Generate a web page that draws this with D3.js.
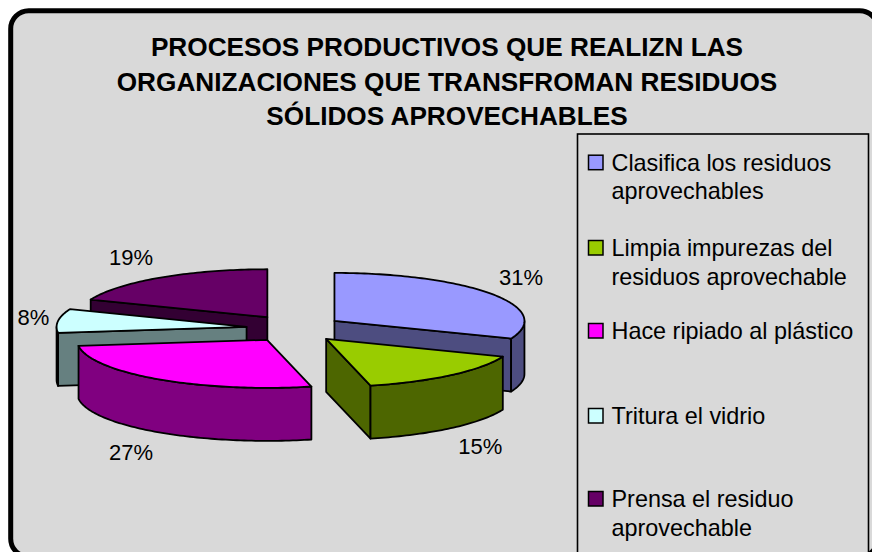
<!DOCTYPE html>
<html>
<head>
<meta charset="utf-8">
<script src="https://cdn.jsdelivr.net/npm/d3@7"></script>
<style>
html,body{margin:0;padding:0;background:#fff;overflow:hidden}
svg{display:block}
text{font-family:"Liberation Sans",Arial,sans-serif;fill:#000}
</style>
</head>
<body>
<svg id="chart" width="872" height="552"></svg>
<script>
const titleLines = [
  "PROCESOS PRODUCTIVOS QUE REALIZN LAS",
  "ORGANIZACIONES QUE TRANSFROMAN RESIDUOS",
  "SÓLIDOS APROVECHABLES"
];
const categories = [
  ["Clasifica los residuos", "aprovechables"],
  ["Limpia impurezas del", "residuos aprovechable"],
  ["Hace ripiado al plástico"],
  ["Tritura el vidrio"],
  ["Prensa el residuo", "aprovechable"]
];
const values = [31, 15.25, 26.75, 8, 19];
const colors = ["#9999FF", "#99CC00", "#FF00FF", "#CCFFFF", "#660066"];
const labelNudges = [[29.5, -9], [29.5, 79], [-28, 81], [-24.7, 4], [-29.6, -12.6]];
const legendBaselines = [170.7, 256, 339, 424, 507];

const svg = d3.select("#chart");
const bg = "#D9D9D9";

// Frame (runs past the right and bottom edges of the picture)
svg.append("rect")
  .attr("x", 10.7).attr("y", 10.7).attr("width", 867).attr("height", 546)
  .attr("rx", 18).attr("ry", 18)
  .attr("fill", bg).attr("stroke", "#000").attr("stroke-width", 5);

// Title
svg.append("g").selectAll("text").data(titleLines).join("text")
  .attr("x", 447).attr("y", (d, i) => [56, 90.5, 125][i])
  .attr("text-anchor", "middle")
  .attr("font-weight", "bold").attr("font-size", 26.2)
  .text(d => d);

// Pie
const cx = 294.5, cy = 328.6, rx = 190, ry = 48, depth = 53, ex = 48.3, ey = 13.7;
const pie = d3.pie().sort(null).startAngle(0).endAngle(2 * Math.PI)(values);
const line = d3.line();
const proj = (a, r) => [Math.sin(a) * r * rx, -Math.cos(a) * r * ry];

const slices = pie.map((p, i) => {
  const mid = (p.startAngle + p.endAngle) / 2;
  return {
    i, mid, start: p.startAngle, end: p.endAngle,
    ax: cx + ex * Math.sin(mid),
    ay: cy - ey * Math.cos(mid),
    color: colors[i],
    wall: (c => d3.rgb(c.r / 2, c.g / 2, c.b / 2).formatHex())(d3.rgb(colors[i]))
  };
}).sort((a, b) => a.ay - b.ay);

const rim = (s, a0, a1, dy) => {
  const n = Math.max(2, Math.ceil((a1 - a0) / 0.02));
  return d3.range(n + 1).map(k => {
    const a = a0 + (a1 - a0) * k / n;
    const [x, y] = proj(a, 1);
    return [s.ax + x, s.ay + y + dy];
  });
};
const radialWall = (s, a) => {
  const [x, y] = proj(a, 1);
  return [[s.ax, s.ay], [s.ax + x, s.ay + y], [s.ax + x, s.ay + y + depth], [s.ax, s.ay + depth]];
};

const sliceG = svg.append("g").attr("stroke", "#000").attr("stroke-width", 1.8).attr("stroke-linejoin", "round");
slices.forEach(s => {
  const g = sliceG.append("g");
  if (Math.sin(s.start) < -1e-6)
    g.append("path").attr("d", line(radialWall(s, s.start)) + "Z").attr("fill", s.wall);
  if (Math.sin(s.end) > 1e-6)
    g.append("path").attr("d", line(radialWall(s, s.end)) + "Z").attr("fill", s.wall);
  const a0 = Math.max(s.start, Math.PI / 2), a1 = Math.min(s.end, 3 * Math.PI / 2);
  if (a1 > a0) {
    const pts = rim(s, a0, a1, 0).concat(rim(s, a0, a1, depth).reverse());
    g.append("path").attr("d", line(pts) + "Z").attr("fill", s.wall);
  }
  g.append("path")
    .attr("d", line([[s.ax, s.ay]].concat(rim(s, s.start, s.end, 0))) + "Z")
    .attr("fill", s.color);
});

// Data labels
svg.append("g").selectAll("text").data(slices).join("text")
  .attr("x", s => s.ax + proj(s.mid, 1)[0] + labelNudges[s.i][0])
  .attr("y", s => s.ay + proj(s.mid, 1)[1] + labelNudges[s.i][1])
  .attr("text-anchor", "middle").attr("font-size", 22)
  .text(s => Math.round(values[s.i]) + "%");

// Legend
svg.append("rect")
  .attr("x", 577.5).attr("y", 134).attr("width", 291).attr("height", 440)
  .attr("fill", bg).attr("stroke", "#000").attr("stroke-width", 1.6);
const leg = svg.append("g").selectAll("g").data(categories).join("g")
  .attr("transform", (d, i) => `translate(0,${legendBaselines[i]})`);
leg.append("rect")
  .attr("x", 588.5).attr("y", -15.5).attr("width", 14.5).attr("height", 14.5)
  .attr("fill", (d, i) => colors[i]).attr("stroke", "#000").attr("stroke-width", 1.5);
leg.selectAll("text").data(d => d).join("text")
  .attr("x", 611.5).attr("y", (d, i) => i * 28.7)
  .attr("font-size", 23.4)
  .text(d => d);
</script>
</body>
</html>
